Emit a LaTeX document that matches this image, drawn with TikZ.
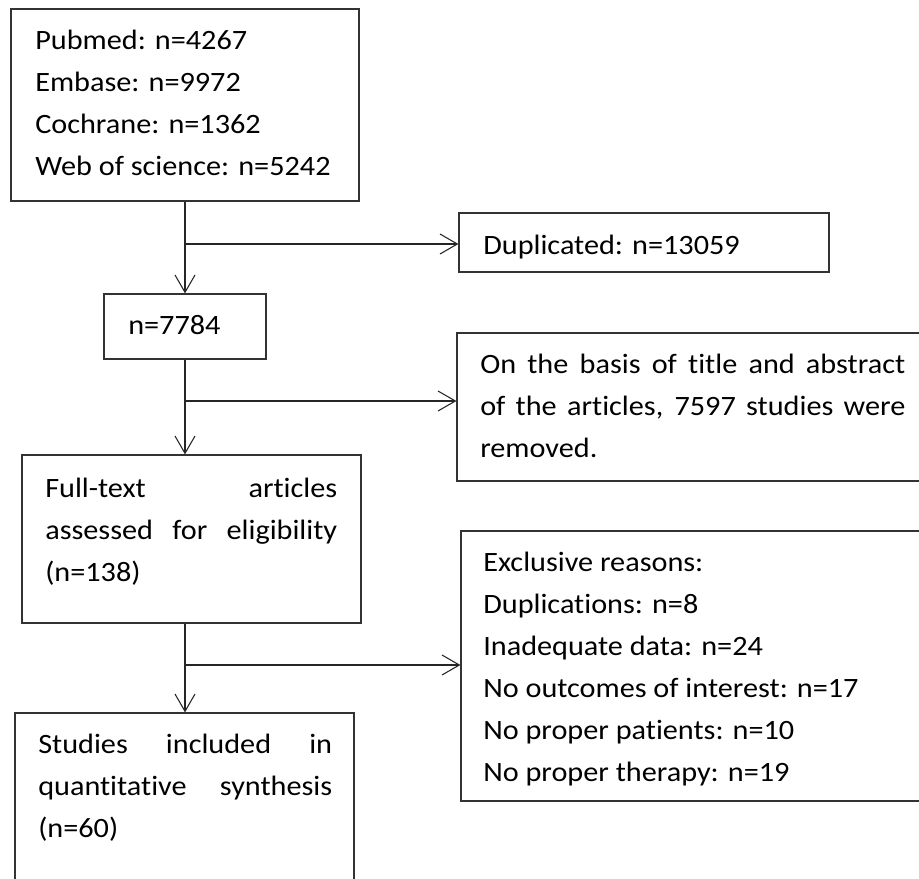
\documentclass[tikz,border=0pt]{standalone}
\usepackage{fontspec}
\setmainfont{Carlito}[Ligatures=NoCommon, FakeStretch=1.08]
\usetikzlibrary{arrows.meta}
\begin{document}
\begin{tikzpicture}[x=0.75pt,y=-0.75pt,
  box/.style={draw=black!80, line width=0.9pt, inner sep=0pt, rectangle},
  txt/.style={anchor=base west, inner sep=0pt, font=\fontsize{21pt}{24pt}\selectfont, text=black},
  conn/.style={line width=0.8pt, draw=black!85},
  arr/.style={conn, -{Straight Barb[length=13pt,width=15pt,line width=0.8pt]}}]
\useasboundingbox (0,0) rectangle (919,878);
% boxes
\node[box, minimum width=261pt, minimum height=144pt] (b1) at (185,105) {};
\node[box, minimum width=277.5pt, minimum height=44.25pt] (dup) at (644,242.5) {};
\node[box, minimum width=121.5pt, minimum height=48.75pt] (n) at (185,326.5) {};
\node[box, minimum width=377.25pt, minimum height=111pt] (rem) at (708.5,407) {};
\node[box, minimum width=254.25pt, minimum height=126pt] (full) at (191.5,539) {};
\node[box, minimum width=374.25pt, minimum height=202.5pt] (excl) at (710.5,666) {};
\node[box, minimum width=254.25pt, minimum height=155.25pt] (fin) at (184.5,816.5) {};
% texts
\node[txt] (t11) at (35,49) {Pubmed: n=4267};
\node[txt] (t12) at (35,91) {Embase: n=9972};
\node[txt] (t13) at (35,133) {Cochrane: n=1362};
\node[txt] (t14) at (35,175) {Web of science: n=5242};
\node[txt] (t2) at (483,254) {Duplicated: n=13059};
\node[txt] (t3) at (128,334) {n=7784};
\node[txt] (t41) at (480,373) {\makebox[318.75pt][s]{On the basis of title and abstract}};
\node[txt] (t42) at (480,415) {\makebox[318.75pt][s]{of the articles, 7597 studies were}};
\node[txt] (t43) at (480,457) {removed.};
\node[txt] (t51) at (45,497) {\makebox[219pt][s]{Full-text articles}};
\node[txt] (t52) at (45,539) {\makebox[219pt][s]{assessed for eligibility}};
\node[txt] (t53) at (45,581) {(n=138)};
\node[txt] (t61) at (483,571) {Exclusive reasons:};
\node[txt] (t62) at (483,613) {Duplications: n=8};
\node[txt] (t63) at (483,655) {Inadequate data: n=24};
\node[txt] (t64) at (483,697) {No outcomes of interest: n=17};
\node[txt] (t65) at (483,739) {No proper patients: n=10};
\node[txt] (t66) at (483,781) {No proper therapy: n=19};
\node[txt] (t71) at (38,753) {\makebox[220.5pt][s]{Studies included in}};
\node[txt] (t72) at (38,795) {\makebox[220.5pt][s]{quantitative synthesis}};
\node[txt] (t73) at (38,837) {(n=60)};
% connectors
\coordinate (j1) at (185,244);
\coordinate (j2) at (185,401);
\coordinate (j3) at (185,665);
\draw[arr] (b1.south) -- (n.north);
\draw[arr] (j1) -- (dup.west |- j1);
\draw[arr] (n.south) -- (n.south |- full.north);
\draw[arr] (j2) -- (rem.west |- j2);
\draw[arr] (n.south |- full.south) -- (n.south |- fin.north);
\draw[arr] (j3) -- (excl.west |- j3);
\end{tikzpicture}
\end{document}
